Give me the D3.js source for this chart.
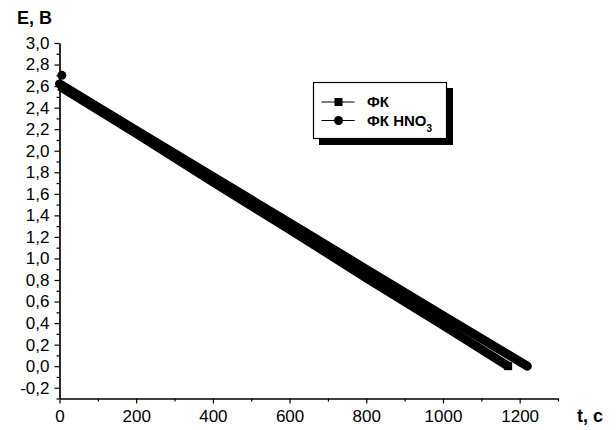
<!DOCTYPE html>
<html>
<head>
<meta charset="utf-8">
<style>
  body { margin: 0; background: #fff; }
  svg { display: block; font-family: "Liberation Sans", Arial, sans-serif; }
  .tick text { font-size: 17px; fill: #000; }
</style>
<script src="https://cdn.jsdelivr.net/npm/d3@7"></script>
</head>
<body>
<svg id="chart"></svg>
<script>
// values
let timeFK = [0, 200, 400, 600, 800, 1000, 1170]
let valuesFK = [2.60, 2.16, 1.71, 1.27, 0.82, 0.38, 0.0]
let timeHNO3 = [0, 200, 400, 600, 800, 1000, 1220]
let valuesHNO3 = [2.62, 2.19, 1.76, 1.33, 0.90, 0.47, 0.0]
let outlierHNO3 = { t: 6, e: 2.70 }
let xTicks = [0, 200, 400, 600, 800, 1000, 1200]
let yTicks = [-0.2, 0, 0.2, 0.4, 0.6, 0.8, 1.0, 1.2, 1.4, 1.6, 1.8, 2.0, 2.2, 2.4, 2.6, 2.8, 3.0]
let legendNames = ["ФК", "ФК HNO"]

let width = 616, height = 430
let svg = d3.select("#chart").attr("width", width).attr("height", height)

let x = d3.scaleLinear().domain([0, 1300]).range([59.5, 558])
let y = d3.scaleLinear().domain([-0.3, 3.0]).range([398.5, 43])

let fmt = v => d3.format(".1f")(v).replace(".", ",").replace("−", "-")

// axes
let xAxis = d3.axisBottom(x).tickValues(xTicks).tickFormat(d3.format("d")).tickSize(5).tickSizeOuter(0).tickPadding(6)
let xMinor = d3.axisBottom(x).tickValues(d3.range(100, 1400, 200)).tickFormat("").tickSize(3).tickSizeOuter(0)
let yAxis = d3.axisLeft(y).tickValues(yTicks).tickFormat(fmt).tickSize(5).tickSizeOuter(0).tickPadding(5)
let yMinor = d3.axisLeft(y).tickValues(d3.range(-0.3, 3.0, 0.2).map(v => +v.toFixed(1))).tickFormat("").tickSize(3).tickSizeOuter(0)

function styleAxis(g) {
  g.selectAll("path, line").attr("stroke", "#000").attr("stroke-width", 1.2)
  g.attr("font-family", null).attr("font-size", null)
}

svg.append("g").attr("transform", `translate(0,${y.range()[0]})`).call(xMinor).call(styleAxis)
svg.append("g").attr("transform", `translate(0,${y.range()[0]})`).call(xAxis).call(styleAxis)
svg.append("g").attr("transform", `translate(${x.range()[0]},0)`).call(yMinor).call(styleAxis)
svg.append("g").attr("transform", `translate(${x.range()[0]},0)`).call(yAxis).call(styleAxis)

// axis titles
svg.append("text").attr("x", 17).attr("y", 24)
  .attr("font-size", 18).attr("font-weight", "bold").text("E, B")
svg.append("text").attr("x", 577).attr("y", 422)
  .attr("font-size", 18).attr("font-weight", "bold").text("t, c")

// series
let fk = timeFK.map((t, i) => ({ t, e: valuesFK[i] }))
let hno3 = timeHNO3.map((t, i) => ({ t, e: valuesHNO3[i] }))
let line = d3.line().x(d => x(d.t)).y(d => y(d.e))

svg.append("path").datum(hno3).attr("d", line)
  .attr("fill", "none").attr("stroke", "#000").attr("stroke-width", 9).attr("stroke-linecap", "round")
svg.append("path").datum(fk).attr("d", line)
  .attr("fill", "none").attr("stroke", "#000").attr("stroke-width", 9).attr("stroke-linecap", "butt")

// end markers
let last = fk[fk.length - 1]
svg.append("rect").attr("x", x(last.t) - 4).attr("y", y(last.e) - 4).attr("width", 8).attr("height", 8).attr("fill", "#000")
svg.append("circle").attr("cx", x(outlierHNO3.t)).attr("cy", y(outlierHNO3.e)).attr("r", 4.5).attr("fill", "#000")

// legend
let lg = svg.append("g")
lg.append("rect").attr("x", 319).attr("y", 88).attr("width", 134).attr("height", 57).attr("fill", "#000")
lg.append("rect").attr("x", 313.5).attr("y", 82.5).attr("width", 133).attr("height", 56)
  .attr("fill", "#fff").attr("stroke", "#000").attr("stroke-width", 1.2)

let rowsY = [102, 120.5]
legendNames.forEach((name, i) => {
  let cy = rowsY[i]
  lg.append("line").attr("x1", 321.5).attr("x2", 354.5).attr("y1", cy).attr("y2", cy)
    .attr("stroke", "#000").attr("stroke-width", 1.2)
  if (i === 0) {
    lg.append("rect").attr("x", 334.5).attr("y", cy - 4).attr("width", 8).attr("height", 8).attr("fill", "#000")
  } else {
    lg.append("circle").attr("cx", 338.5).attr("cy", cy).attr("r", 4.5).attr("fill", "#000")
  }
  let t = lg.append("text").attr("x", 367).attr("y", cy + 5)
    .attr("font-size", 15).attr("font-weight", "bold").text(name)
  if (i === 1) {
    t.append("tspan").attr("font-size", 10).attr("dy", 6).text("3")
  }
})
</script>
</body>
</html>
